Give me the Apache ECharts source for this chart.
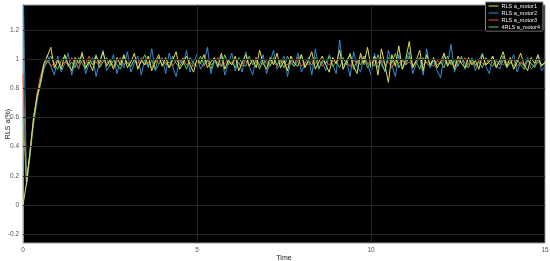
<!DOCTYPE html>
<html>
<head>
<meta charset="utf-8">
<title>RLS a</title>
<script src="https://cdn.jsdelivr.net/npm/echarts@6/dist/echarts.min.js"></script>
<style>
  html, body { margin: 0; padding: 0; background: #fff; }
  #chart { width: 550px; height: 261px; }
</style>
</head>
<body>
<div id="chart"></div>
<script>
// sampled every 0.1 s, t = 0 .. 15
var dt = 0.1;
var seriesNames = ['RLS a_motor1', 'RLS a_motor2', 'RLS a_motor3', '4RLS a_motor4'];
var yTicks = [-0.2, 0, 0.2, 0.4, 0.6, 0.8, 1, 1.2];
var xTicks = [5, 10];

var motor1 = [0, 0.15, 0.36, 0.58, 0.74, 0.84, 0.97, 1.02, 1.08, 0.94,
  0.99, 0.93, 1.03, 0.96, 0.92, 1.01, 0.97, 1.04, 0.94, 0.98,
  0.92, 1.02, 0.97, 1.05, 0.95, 0.99, 0.93, 1.01, 0.96, 1.03,
  0.94, 0.98, 1.04, 0.93, 0.99, 0.96, 1.02, 0.92, 0.98, 1.03,
  0.95, 1.01, 0.94, 0.99, 1.05, 0.93, 0.97, 1.02, 0.96, 0.91,
  1.00, 0.97, 1.03, 0.94, 0.98, 1.01, 0.95, 1.04, 0.93, 0.99,
  0.96, 1.02, 0.92, 0.98, 1.03, 0.95, 1.00, 0.94, 1.06, 0.97,
  0.93, 1.01, 0.96, 1.04, 0.94, 0.99, 0.92, 1.02, 0.97, 0.95,
  1.03, 0.94, 0.99, 1.05, 0.93, 0.98, 1.02, 0.96, 0.91, 1.01,
  0.97, 1.06, 0.93, 0.99, 1.03, 0.95, 0.90, 1.04, 0.97, 1.08,
  0.94, 1.02, 0.89, 1.07, 0.96, 0.84, 1.03, 0.95, 1.09, 0.93,
  1.00, 1.12, 0.94, 0.99, 1.06, 0.92, 1.03, 0.96, 1.01, 0.94,
  0.98, 1.04, 0.95, 1.00, 0.93, 1.02, 0.97, 0.94, 1.01, 0.96,
  0.99, 0.93, 1.03, 0.96, 0.98, 1.02, 0.94, 0.99, 1.05, 0.95,
  1.01, 0.93, 0.98, 1.04, 0.96, 0.92, 1.01, 0.97, 1.03, 0.95,
  0.98];

var motor2 = [1.6, 0.13, 0.33, 0.55, 0.70, 0.86, 0.93, 1.03, 0.95, 0.89,
  1.02, 0.91, 0.97, 1.04, 0.89, 0.99, 0.93, 1.05, 0.90, 0.97,
  1.01, 0.88, 0.98, 1.06, 0.92, 0.96, 1.03, 0.90, 0.99, 0.94,
  1.05, 0.91, 0.97, 1.02, 0.89, 1.00, 0.94, 1.07, 0.92, 0.96,
  1.01, 0.90, 1.04, 0.95, 0.88, 1.00, 0.96, 1.06, 0.91, 0.98,
  1.03, 0.93, 0.97, 1.08, 0.90, 0.99, 0.94, 1.02, 0.89, 0.97,
  1.04, 0.92, 0.98, 0.91, 1.05, 0.95, 0.89, 1.01, 0.96, 1.03,
  0.90, 0.98, 1.06, 0.93, 0.97, 1.02, 0.88, 0.99, 0.95, 1.04,
  0.91, 0.97, 1.01, 0.89, 1.07, 0.94, 0.98, 0.92, 1.03, 0.96,
  0.90, 1.13, 0.93, 0.99, 0.88, 1.05, 0.95, 0.91, 1.02, 0.97,
  0.89, 1.04, 0.94, 0.99, 0.91, 1.06, 0.96, 0.88, 1.03, 0.93,
  0.98, 1.05, 0.90, 0.97, 1.01, 0.89, 1.07, 0.94, 0.99, 0.92,
  0.87, 1.03, 0.96, 1.10, 0.91, 0.98, 1.02, 0.93, 0.97, 1.01,
  0.92, 0.99, 1.04, 0.95, 0.90, 1.02, 0.96, 0.93, 1.00, 0.94,
  0.97, 1.03, 0.91, 0.98, 0.95, 1.01, 0.93, 0.96, 1.02, 0.92,
  0.95];

var motor3 = [0.9, 0.15, 0.37, 0.57, 0.76, 0.88, 0.96, 0.99, 0.95, 0.97,
  1.00, 0.95, 0.98, 0.96, 1.01, 0.97, 0.94, 0.99, 0.97, 1.02,
  0.96, 0.98, 0.95, 1.00, 0.97, 0.99, 0.95, 0.98, 1.01, 0.96,
  0.98, 0.95, 0.99, 0.97, 1.01, 0.96, 0.98, 0.94, 0.99, 0.97,
  1.00, 0.96, 0.98, 0.95, 0.99, 0.97, 1.01, 0.96, 0.98, 0.95,
  0.99, 0.97, 0.95, 1.00, 0.96, 0.98, 1.01, 0.95, 0.97, 0.99,
  0.96, 1.00, 0.97, 0.95, 0.99, 0.96, 0.98, 1.01, 0.95, 0.97,
  0.99, 0.96, 0.98, 0.95, 1.00, 0.97, 0.96, 0.99, 0.97, 1.01,
  0.95, 0.98, 0.96, 0.99, 0.97, 1.00, 0.95, 0.98, 0.96, 0.99,
  0.97, 1.01, 0.96, 0.98, 0.95, 0.99, 0.97, 1.02, 0.96, 0.98,
  0.95, 0.99, 0.97, 1.01, 0.96, 0.98, 0.94, 0.99, 0.97, 1.00,
  0.96, 0.98, 0.95, 0.99, 1.01, 0.96, 0.98, 0.97, 0.95, 0.99,
  0.97, 1.00, 0.96, 0.98, 0.95, 0.99, 0.97, 1.01, 0.96, 0.98,
  0.95, 0.99, 0.97, 0.96, 1.00, 0.97, 0.95, 0.99, 0.96, 0.98,
  0.97, 1.00, 0.95, 0.98, 0.96, 0.99, 0.97, 0.95, 0.98, 0.96,
  0.97];

var motor4 = [0.6, 0.16, 0.35, 0.60, 0.73, 0.82, 0.94, 0.98, 1.02, 0.96,
  0.93, 0.99, 1.02, 0.95, 0.98, 0.94, 1.01, 0.97, 0.93, 1.00,
  0.96, 1.03, 0.94, 0.98, 1.01, 0.95, 0.99, 0.96, 0.93, 1.02,
  0.97, 0.95, 1.00, 0.94, 0.98, 1.03, 0.95, 0.99, 0.93, 1.01,
  0.96, 0.98, 0.94, 1.02, 0.97, 0.95, 0.99, 0.93, 1.01, 0.97,
  0.95, 1.02, 0.96, 0.99, 0.93, 1.00, 0.97, 0.95, 1.03, 0.96,
  0.98, 0.94, 1.01, 0.97, 0.95, 1.02, 0.96, 0.99, 0.93, 1.00,
  0.97, 0.95, 1.01, 0.96, 0.99, 0.94, 1.02, 0.97, 0.95, 0.99,
  1.03, 0.95, 0.98, 0.96, 1.01, 0.93, 0.99, 0.97, 1.02, 0.95,
  0.98, 0.94, 1.01, 0.96, 1.04, 0.93, 0.99, 0.96, 1.02, 0.94,
  0.98, 0.95, 1.03, 0.96, 0.92, 1.01, 0.97, 1.04, 0.94, 0.99,
  0.96, 1.02, 0.95, 0.98, 0.93, 1.01, 0.97, 0.95, 1.00, 0.96,
  0.98, 0.94, 1.02, 0.96, 0.99, 0.95, 1.01, 0.97, 0.94, 1.00,
  0.96, 0.98, 0.94, 1.01, 0.97, 0.95, 0.99, 0.96, 1.02, 0.94,
  0.98, 0.95, 1.00, 0.96, 0.93, 0.99, 0.97, 0.94, 1.00, 0.96,
  0.97];

var colors = ['#e3df4f', '#2b8fd8', '#e4543c', '#5cc65a'];

function pairs(arr) {
  var out = [];
  for (var i = 0; i < arr.length; i++) {
    out.push([+(i * dt).toFixed(1), arr[i]]);
  }
  return out;
}

var gridLines = [];
yTicks.forEach(function (v) { gridLines.push({ yAxis: v }); });
xTicks.forEach(function (v) { gridLines.push({ xAxis: v }); });

function lineSeries(idx, arr, extra) {
  var s = {
    name: seriesNames[idx],
    type: 'line',
    data: pairs(arr),
    showSymbol: false,
    symbol: 'none',
    clip: true,
    animation: false,
    lineStyle: { width: 1, color: colors[idx] },
    itemStyle: { color: colors[idx] }
  };
  if (extra) s.markLine = extra;
  return s;
}

var chart = echarts.init(document.getElementById('chart'), null, { renderer: 'canvas' });
chart.setOption({
  animation: false,
  backgroundColor: '#fff',
  grid: {
    left: 23, right: 5, top: 5, bottom: 18,
    outerBoundsMode: 'none',
    containLabel: false,
    show: true, backgroundColor: '#000', borderColor: '#9a9a9a', borderWidth: 1
  },
  legend: {
    data: seriesNames,
    orient: 'vertical',
    right: 7, top: 2,
    itemWidth: 10, itemHeight: 1, itemGap: 1,
    padding: [1, 3, 1, 3],
    backgroundColor: '#050505',
    borderColor: '#8a8a8a', borderWidth: 1,
    icon: 'rect',
    textStyle: { color: '#eee', fontSize: 5.5, lineHeight: 6, fontFamily: 'Liberation Sans', padding: [0, 0, 0, -2] }
  },
  xAxis: {
    type: 'value',
    min: 0, max: 15, interval: 5,
    name: 'Time',
    nameLocation: 'middle',
    nameGap: 12,
    nameMoveOverlap: false,
    nameTextStyle: { color: '#222', fontSize: 7, fontFamily: 'Liberation Sans' },
    axisLine: { show: true, lineStyle: { color: '#9a9a9a' } },
    axisTick: { show: false },
    splitLine: { show: false },
    axisLabel: { color: '#555', fontSize: 6.5, margin: 4, fontFamily: 'Liberation Sans' }
  },
  yAxis: {
    type: 'value',
    min: -0.26, max: 1.37,
    name: 'RLS a(%)',
    nameLocation: 'middle',
    nameRotate: 90,
    nameGap: 11,
    nameMoveOverlap: false,
    nameTextStyle: { color: '#222', fontSize: 7, fontFamily: 'Liberation Sans' },
    axisLine: { show: true, lineStyle: { color: '#9a9a9a' } },
    axisTick: { show: false, customValues: yTicks },
    splitLine: { show: false },
    axisLabel: {
      color: '#555', fontSize: 6.5, margin: 4, fontFamily: 'Liberation Sans',
      customValues: yTicks,
      formatter: function (v) { return String(+v.toFixed(1)); }
    }
  },
  series: [
    lineSeries(1, motor2, {
      silent: true, symbol: 'none', animation: false, label: { show: false },
      lineStyle: { color: '#262626', type: 'solid', width: 1 },
      data: gridLines
    }),
    lineSeries(2, motor3),
    lineSeries(3, motor4),
    lineSeries(0, motor1)
  ]
});
</script>
</body>
</html>
